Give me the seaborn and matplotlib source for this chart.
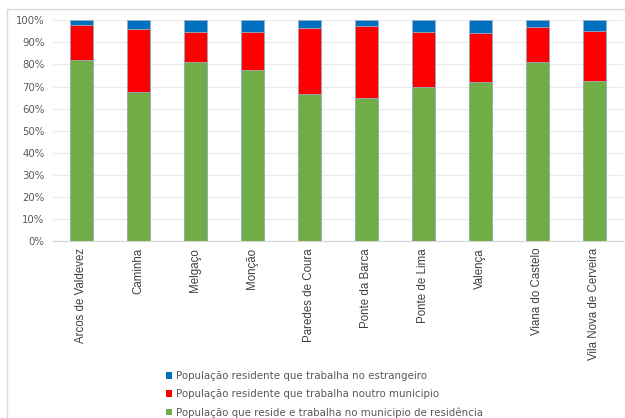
import numpy as np
import matplotlib
matplotlib.use("Agg")
import matplotlib.pyplot as plt
from matplotlib.patches import Rectangle, Patch
import seaborn as sns

# Municipalities of Alto Minho
municipios = ["Arcos de Valdevez", "Caminha", "Melgaço", "Monção", "Paredes de Coura",
              "Ponte da Barca", "Ponte de Lima", "Valença", "Viana do Castelo",
              "Vila Nova de Cerveira"]

# Shares of the employed resident population (%)
reside_trabalha = [81.8, 67.6, 81.3, 77.4, 66.7, 65.0, 70.0, 71.9, 81.0, 72.5]
noutro_municipio = [15.9, 28.5, 13.4, 17.3, 29.8, 32.4, 24.9, 22.2, 15.8, 22.7]
estrangeiro = [2.3, 3.9, 5.3, 5.3, 3.5, 2.6, 5.1, 5.9, 3.2, 4.8]

yticks = [0, 10, 20, 30, 40, 50, 60, 70, 80, 90, 100]
ytick_labels = [f"{v}%" for v in yticks]

legend_labels = ["População residente que trabalha no estrangeiro",
                 "População residente que trabalha noutro municipio",
                 "População que reside e trabalha no municipio de residência"]

c_blue, c_red, c_green = "#0070C0", "#FF0000", "#70AD47"
text_col = "#595959"

sns.set_theme(style="white")
plt.rcParams["font.family"] = ["DejaVu Sans"]

fig = plt.figure(figsize=(6.25, 4.18), dpi=100)
ax = fig.add_axes([0.0845, 0.4234, 0.9123, 0.528])

green = np.array(reside_trabalha)
red_top = green + np.array(noutro_municipio)
blue_top = red_top + np.array(estrangeiro)

edge = "#9AAFC4"
for vals, col in [(blue_top, c_blue), (red_top, c_red), (green, c_green)]:
    sns.barplot(x=municipios, y=vals, color=col, width=0.4, ax=ax,
                edgecolor=edge, linewidth=0.6, saturation=1, zorder=3)

ax.set_ylim(0, 100)
ax.set_xlim(-0.5, len(municipios) - 0.5)
ax.set_yticks(yticks)
ax.set_yticklabels(ytick_labels)
ax.yaxis.grid(True, color="#EBEBEB", linewidth=0.9, zorder=0)
ax.set_axisbelow(True)
for s in ["left", "right", "top"]:
    ax.spines[s].set_visible(False)
ax.spines["bottom"].set_color("#D9D9D9")
ax.spines["bottom"].set_linewidth(0.9)
ax.tick_params(axis="both", length=0, colors=text_col, labelsize=7.3)
ax.tick_params(axis="y", pad=6)
ax.tick_params(axis="x", pad=5)
plt.setp(ax.get_xticklabels(), rotation=90, va="top", ha="center",
         family="Liberation Sans", fontsize=8.3, color="#404040")
ax.set_xlabel("")
ax.set_ylabel("")

handles = [Patch(facecolor=c, edgecolor="none") for c in (c_blue, c_red, c_green)]
leg = fig.legend(handles, legend_labels, loc="upper left",
                 bbox_to_anchor=(166 / 625, 1 - 371 / 418), frameon=False,
                 fontsize=7.4, labelcolor=text_col, handlelength=0.6,
                 handleheight=0.6, handletextpad=0.35, labelspacing=0.78,
                 borderpad=0, borderaxespad=0)

# Chart area border
fig.patches.append(Rectangle((7 / 625, -0.05), 1.2, 1 - 9 / 418 + 0.05,
                             transform=fig.transFigure, fill=False,
                             edgecolor="#D9D9D9", linewidth=1.0))

fig.savefig("out.png", dpi=100)
